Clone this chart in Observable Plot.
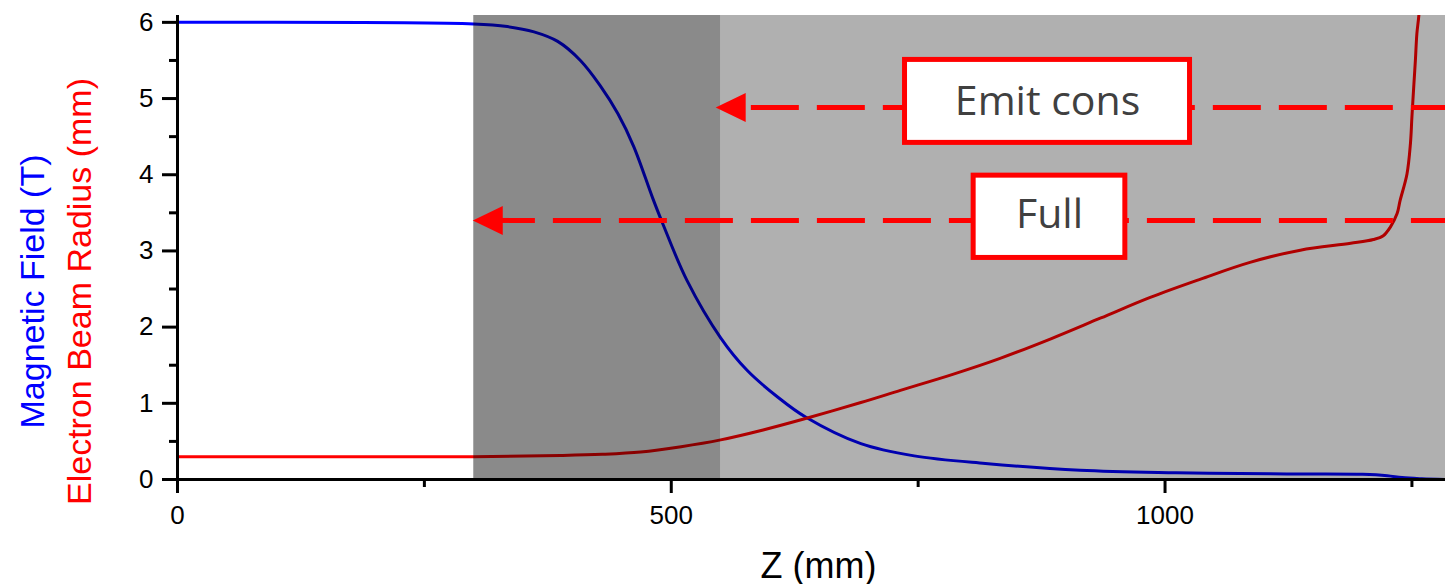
<!DOCTYPE html>
<html>
<head>
<meta charset="utf-8">
<script src="https://cdn.jsdelivr.net/npm/d3@7"></script>
<script src="https://cdn.jsdelivr.net/npm/@observablehq/plot@0.6"></script>
<style>
  body { margin: 0; background: #fff; }
</style>
</head>
<body>
<div id="chart"></div>
<script>
// On-axis magnetic field B(z), tesla
const fieldZ = [0, 300, 334, 361, 385, 408, 428, 446, 462, 481, 491, 516, 550, 577, 608, 636, 692, 746, 818, 914, 1011, 1107, 1137, 1200, 1225, 1240, 1260, 1284];
const fieldT = [6.0, 5.98, 5.945, 5.875, 5.75, 5.50, 5.17, 4.80, 4.37, 3.70, 3.37, 2.61, 1.86, 1.43, 1.08, 0.82, 0.47, 0.31, 0.21, 0.12, 0.088, 0.074, 0.072, 0.068, 0.05, 0.025, 0.01, 0.0];

// Electron beam radius r(z), mm
const radiusZ = [0, 300, 388, 430, 469, 510, 550, 593, 636, 692, 732, 785, 833, 885, 935, 985, 1036, 1086, 1137, 1188, 1211, 1221, 1228, 1235, 1238, 1245, 1248.5, 1250, 1252, 1253.5, 1255, 1257, 1259];
const radiusMm = [0.30, 0.30, 0.315, 0.33, 0.36, 0.43, 0.52, 0.65, 0.80, 1.01, 1.17, 1.38, 1.59, 1.85, 2.12, 2.39, 2.63, 2.85, 3.01, 3.10, 3.15, 3.20, 3.31, 3.49, 3.66, 4.01, 4.41, 4.76, 5.19, 5.50, 5.85, 6.09, 6.5];

// Shaded zones along z (mm) and their darkening
const zoneStart = [300, 550];
const zoneEnd = [550, 1284];
const zoneShade = [0.46, 0.31];

// Limit markers: label, z where the arrow points, level on the y scale
const limitLabels = ["Emit cons", "Full"];
const limitTipZ = [545, 299];
const limitLevel = [4.884, 3.40];

// Axis ticks
const xTicks = [0, 500, 1000];
const xMinorTicks = [250, 750, 1250];
const yTicks = [0, 1, 2, 3, 4, 5, 6];
const yMinorTicks = [0.5, 1.5, 2.5, 3.5, 4.5, 5.5];

// Placement of the marker boxes, dashed leaders and their text
const limitLayout = [
  { lineZ: 575, dashOffset: 60, boxZ1: 736.7, boxZ2: 1025.3, boxY1: 5.507, boxY2: 4.418, textZ: 881, textY: 4.951 },
  { lineZ: 329, dashOffset: 15, boxZ1: 806.2, boxZ2: 959.8, boxY1: 3.988, boxY2: 2.908, textZ: 883, textY: 3.467 }
];

const field = fieldZ.map((z, i) => ({ z, v: fieldT[i] }));
const radius = radiusZ.map((z, i) => ({ z, v: radiusMm[i] }));
const zones = zoneStart.map((z1, i) => ({ z1, z2: zoneEnd[i], shade: zoneShade[i] }));
const limits = limitLabels.map((label, i) => ({ label, tipZ: limitTipZ[i], level: limitLevel[i], endZ: 1284, ...limitLayout[i] }));

// Filled left-pointing arrowhead, tip at the origin
const arrowHead = {
  draw(context) {
    context.moveTo(0, 0);
    context.lineTo(30, -14.5);
    context.lineTo(30, 14.5);
    context.closePath();
  }
};

const RED = "#ff0000";

const chart = Plot.plot({
  width: 1445,
  height: 584,
  marginLeft: 177,
  marginRight: 0,
  marginTop: 15,
  marginBottom: 105,
  style: { fontFamily: "'Liberation Sans', Arial, sans-serif", background: "#fff", color: "#000", overflow: "visible" },
  x: { domain: [0, 1284] },
  y: { domain: [0, 6.09] },
  opacity: { type: "identity" },
  marks: [
    Plot.line(field, { x: "z", y: "v", stroke: "#0000ff", strokeWidth: 3, curve: "catmull-rom" }),
    Plot.line(radius, { x: "z", y: "v", stroke: RED, strokeWidth: 3, curve: "catmull-rom", clip: true }),
    Plot.rect(zones, { x1: "z1", x2: "z2", fill: "#000", fillOpacity: "shade" }),

    Plot.ruleY([0], { strokeWidth: 3 }),
    Plot.ruleX([0], { strokeWidth: 3 }),
    Plot.axisX({ ticks: xTicks, tickSize: 14, tickPadding: 12, fontSize: 26, strokeWidth: 3, label: null, tickFormat: d => String(d) }),
    Plot.axisX({ ticks: xMinorTicks, tickSize: 8, strokeWidth: 3, label: null, tickFormat: () => "" }),
    Plot.axisY({ ticks: yTicks, tickSize: 15, tickPadding: 9, fontSize: 26, strokeWidth: 3, label: null, tickFormat: d => String(d) }),
    Plot.axisY({ ticks: yMinorTicks, tickSize: 8, strokeWidth: 3, label: null, tickFormat: () => "" }),

    Plot.text(["Z (mm)"], { frameAnchor: "bottom", text: d => d, lineAnchor: "bottom", dx: 7, dy: 98, fontSize: 36, fill: "#000" }),
    Plot.text(["Magnetic Field (T)"], { frameAnchor: "left", text: d => d, rotate: -90, lineAnchor: "bottom", textAnchor: "middle", dx: -134, dy: 44, fontSize: 34, fill: "#0000ff" }),
    Plot.text(["Electron Beam Radius (mm)"], { frameAnchor: "left", text: d => d, rotate: -90, lineAnchor: "bottom", textAnchor: "middle", dx: -87, dy: 44, fontSize: 34, fill: RED }),

    limits.map(d => Plot.ruleY([d], { y: "level", x1: "lineZ", x2: "endZ", stroke: RED, strokeWidth: 5, strokeDasharray: "48,18", strokeDashoffset: d.dashOffset })),
    Plot.dot(limits, { x: "tipZ", y: "level", symbol: arrowHead, fill: RED, stroke: "none" }),
    Plot.rect(limits, { x1: "boxZ1", x2: "boxZ2", y1: "boxY1", y2: "boxY2", fill: "#fff", stroke: RED, strokeWidth: 5 }),
    Plot.text(limits, { x: "textZ", y: "textY", text: "label", lineAnchor: "middle", fontFamily: "'Open Sans', sans-serif", fontSize: 41, fill: "#404040" })
  ]
});

document.getElementById("chart").appendChild(chart);
</script>
</body>
</html>
